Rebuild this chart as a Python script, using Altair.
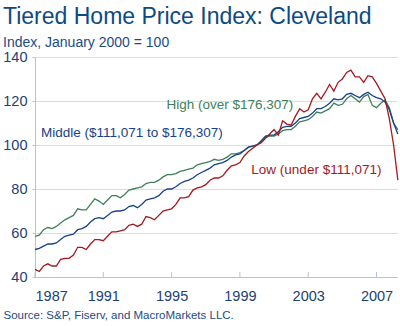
import altair as alt
import pandas as pd

years = [1987 + q / 4 for q in range(86)]

high = [58.5, 59, 61.5, 62.5, 62, 63, 64.5, 66, 67, 68, 71, 70.5, 70.5, 73, 75.5, 74.5,
        73, 75, 77, 77, 76, 77.5, 79.5, 80, 80.5, 81, 82.5, 83, 83, 84, 85.5, 86.5,
        86.5, 87, 88, 88.5, 89, 89.5, 91, 91.5, 92, 92.5, 93.5, 93, 93.5, 94.5, 96, 96,
        96.5, 97.5, 99, 99.5, 100, 101.5, 103.5, 104, 104, 105, 106.5, 107, 107, 108.5, 110.5, 111,
        111.5, 113, 115, 114.5, 115.5, 116.5, 119, 118, 118.5, 121, 122.5, 121, 119.5, 122, 123, 118,
        117, 119, 120.5, 117, 110, 107]

middle = [52.5, 53, 54, 55, 55, 55.5, 57, 58.5, 59, 59.5, 61.5, 62, 63, 65, 66.5, 67,
          66.5, 68, 69.5, 70, 70, 70.5, 72, 72.5, 71.5, 73, 75, 75.5, 76, 77, 79, 80,
          80, 81, 82.5, 83.5, 84, 85, 86.5, 87.5, 88.5, 89.5, 91, 91.5, 92, 93, 94.5, 95.5,
          96, 97.5, 99, 99.5, 100, 102, 104, 104.5, 104.5, 106, 108, 108.5, 108.5, 110, 112, 112.5,
          113, 114.5, 116.5, 116.5, 117.5, 119, 121, 120.5, 121, 123, 123.5, 122.5, 121.5, 123, 124, 122.5,
          121.5, 121, 119.5, 116, 110, 105]

low = [43.5, 42.5, 45, 46, 45, 45, 48, 48.5, 48.5, 50, 53.5, 53.5, 52.5, 55, 57, 57,
       56.5, 58.5, 60.5, 60.5, 61, 61.5, 63.5, 64, 63, 64, 67.5, 67, 66, 68, 70, 70.5,
       71, 73, 76, 76, 76.5, 79.5, 80.5, 81, 82, 84, 85, 85, 86, 88.5, 90.5, 91,
       92, 95, 97, 98.5, 100, 101, 103, 105, 107, 104.5, 111, 109.5, 109, 113, 116.5, 115,
       116, 121, 123.5, 121, 124, 127.5, 124.5, 128.5, 130, 133, 134, 131, 131, 128.5, 131.5, 131,
       128, 124.5, 121, 112, 100, 84]

series_names = ["High", "Middle", "Low"]
series_colors = ["#3f7f5a", "#17428a", "#a3191e"]

label_text = ["High (over $176,307)", "Middle ($111,071 to $176,307)", "Low (under $111,071)"]
label_year = [1994.7, 1987.35, 1999.67]
label_value = [118.2, 105.3, 88.6]

x_ticks = [1987, 1991, 1995, 1999, 2003, 2007]
y_ticks = [40, 60, 80, 100, 120, 140]

rows = []
for name, vals in zip(series_names, [high, middle, low]):
    for yr, v in zip(years, vals):
        rows.append({"year": yr, "value": v, "series": name})
df = pd.DataFrame(rows)

labels = pd.DataFrame({"text": label_text, "year": label_year, "value": label_value,
                       "series": series_names})
ticks = pd.DataFrame({"year": x_ticks})

xscale = alt.Scale(domain=[1987, 2008.2], nice=False, zero=False)
yscale = alt.Scale(domain=[40, 140], nice=False, zero=False)
cscale = alt.Scale(domain=series_names, range=series_colors)

lines = alt.Chart(df).mark_line(strokeWidth=1.3).encode(
    x=alt.X("year:Q", scale=xscale,
            axis=alt.Axis(values=x_ticks, format="d", grid=False, ticks=False,
                          labelPadding=12, domainColor="#b4c4d4",
                          labelFont="Liberation Sans", labelFontSize=14.5, labelColor="#1d3f73",
                          title="Source: S&P, Fiserv, and MacroMarkets LLC.",
                          titleX=-32, titleY=41, titleAnchor="start", titleAlign="left",
                          titleFont="Liberation Sans",
                          titleFontSize=11.5, titleFontWeight="normal",
                          titleColor="#1d4a85", titleBaseline="alphabetic")),
    y=alt.Y("value:Q", scale=yscale,
            axis=alt.Axis(values=y_ticks, title=None, grid=True, gridColor="#d5dee8",
                          domainColor="#b4c4d4", tickColor="#b4c4d4", tickSize=3,
                          labelPadding=5, labelFont="Liberation Sans", labelFontSize=14.5,
                          labelColor="#1d3f73")),
    color=alt.Color("series:N", scale=cscale, legend=None),
    detail="series:N",
)

tick_marks = alt.Chart(ticks).mark_rule(color="#b4c4d4").encode(
    x="year:Q", y=alt.value(215), y2=alt.value(220))

text = alt.Chart(labels).mark_text(align="left", baseline="middle", fontSize=13.5,
                                   font="Liberation Sans").encode(
    x=alt.X("year:Q", scale=xscale),
    y=alt.Y("value:Q", scale=yscale),
    text="text:N",
    color=alt.Color("series:N", scale=cscale, legend=None),
)

chart = alt.layer(tick_marks, lines, text).properties(
    width=362, height=220,
    background="white",
    autosize=alt.AutoSizeParams(type="none"),
    padding={"left": 35, "top": 57, "right": 3, "bottom": 49},
    title=alt.Title(
        "Tiered Home Price Index: Cleveland",
        subtitle="Index, January 2000 = 100",
        anchor="start", frame="group", dx=-32, dy=14, offset=13,
        fontSize=23, fontWeight="normal", color="#0d4a82",
        subtitleFontSize=14, subtitleColor="#1d4a85", subtitlePadding=7,
        font="Liberation Sans", subtitleFont="Liberation Sans",
    ),
).configure_view(stroke=None)

chart.save("out.html", embed_options={"renderer": "svg", "actions": False})
